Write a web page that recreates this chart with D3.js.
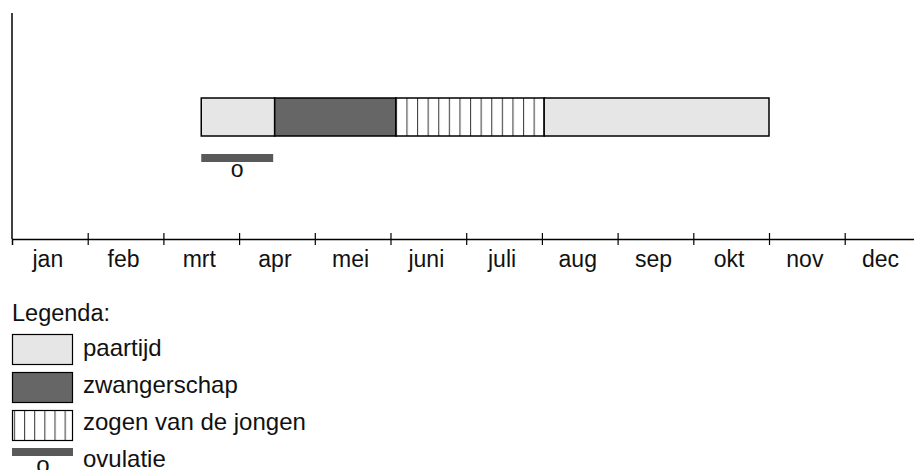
<!DOCTYPE html>
<html><head><meta charset="utf-8">
<script src="https://cdn.jsdelivr.net/npm/d3@7"></script>
<style>body{margin:0;background:#fff}svg{display:block}text{font-family:"Liberation Sans",Arial,sans-serif;fill:#111}</style>
</head><body><svg id="c" width="914" height="470"></svg>
<script>
const months = ["jan","feb","mrt","apr","mei","juni","juli","aug","sep","okt","nov","dec"];
const periodStart = [2.5, 3.47, 5.07, 7.03];
const periodEnd   = [3.47, 5.07, 7.03, 10.0];
const periodType  = ["paartijd","zwangerschap","zogen","paartijd"];
const ovulatie = [2.5, 3.45];
const legendLabels = ["paartijd","zwangerschap","zogen van de jongen","ovulatie"];
const legendTypes = ["paartijd","zwangerschap","zogen","ovulatie"];

const svg = d3.select("#c");
const x = d3.scaleLinear().domain([0,12]).range([12, 12 + 75.7*12]);
const fills = {paartijd:"#e6e6e6", zwangerschap:"#666666", zogen:"url(#stripes)", ovulatie:"#595959"};
const defs = svg.append("defs");
function stripePattern(id, x0, w){
  const p = defs.append("pattern").attr("id",id).attr("patternUnits","userSpaceOnUse")
    .attr("x",x0).attr("y",0).attr("width",w).attr("height",10);
  p.append("rect").attr("width",w).attr("height",10).attr("fill","#fff");
  p.append("line").attr("x1",0.5).attr("x2",0.5).attr("y1",0).attr("y2",10).attr("stroke","#444").attr("stroke-width",1.2);
}
stripePattern("stripes", x(periodStart[2]), 10.6);
stripePattern("stripesL", 12, 10.15);

const axisY = 239;
svg.append("line").attr("x1",12).attr("x2",12).attr("y1",13).attr("y2",axisY).attr("stroke","#000").attr("stroke-width",1.5);
const ax = svg.append("g").attr("transform",`translate(0,${axisY})`)
  .call(d3.axisBottom(x).tickValues(d3.range(1,12)).tickSizeOuter(0).tickSize(6).tickFormat(""));
ax.select(".domain").attr("stroke","#000").attr("stroke-width",1.5);
ax.selectAll(".tick line").attr("y1",-6).attr("y2",6).attr("stroke","#000").attr("stroke-width",1.2);
svg.append("g").selectAll("text").data(months).join("text")
  .attr("x",(d,i)=>x(i+0.5)-2).attr("y",267).attr("text-anchor","middle")
  .attr("font-size",23).text(d=>d);

svg.append("g").selectAll("rect").data(periodType).join("rect")
  .attr("x",(d,i)=>x(periodStart[i])).attr("width",(d,i)=>x(periodEnd[i])-x(periodStart[i]))
  .attr("y",98).attr("height",38).attr("fill",d=>fills[d]).attr("stroke","#000").attr("stroke-width",1.5);
svg.append("rect").attr("x",x(ovulatie[0])).attr("width",x(ovulatie[1])-x(ovulatie[0]))
  .attr("y",154).attr("height",8).attr("fill",fills.ovulatie);
svg.append("text").attr("x",(x(ovulatie[0])+x(ovulatie[1]))/2).attr("y",177).attr("text-anchor","middle")
  .attr("font-size",23).text("o");

svg.append("text").attr("x",12).attr("y",321).attr("font-size",23.5).text("Legenda:");
const lg = svg.append("g").selectAll("g").data(legendTypes).join("g")
  .attr("transform",(d,i)=>`translate(12,${334+i*38})`);
lg.each(function(d,i){
  const g = d3.select(this);
  if(d==="ovulatie"){
    g.append("rect").attr("x",0).attr("y",0).attr("width",61).attr("height",8).attr("fill",fills.ovulatie);
    g.append("text").attr("x",31).attr("y",25).attr("text-anchor","middle").attr("font-size",24).text("o");
  } else {
    g.append("rect").attr("x",0.5).attr("y",0.5).attr("width",60).attr("height",30)
      .attr("fill", d==="zogen" ? "url(#stripesL)" : fills[d]).attr("stroke","#000").attr("stroke-width",1.2);
  }
  g.append("text").attr("x",71).attr("y",22 - i*0.9).attr("font-size",24).text(legendLabels[i]);
});
</script></body></html>
